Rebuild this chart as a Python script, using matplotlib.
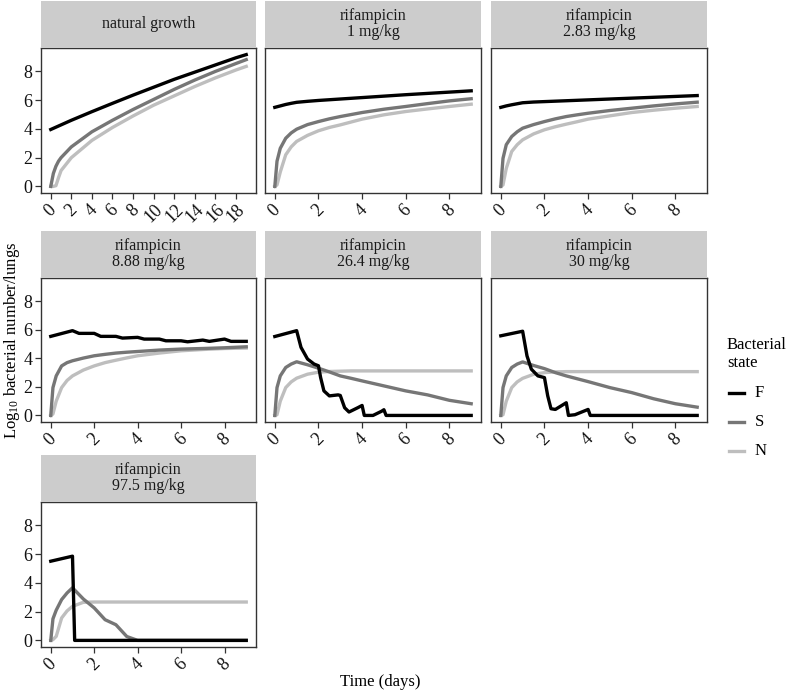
import matplotlib
matplotlib.use('Agg')
import matplotlib.pyplot as plt
from matplotlib.lines import Line2D

plt.rcParams['font.family'] = ['Liberation Serif', 'DejaVu Serif']
plt.rcParams['mathtext.default'] = 'regular'

# time grids (days)
ng_days = [0, 0.25, 0.5, 0.75, 1, 2, 4, 6, 8, 10, 12, 14, 16, 18, 19]
days = [0, 0.1, 0.25, 0.5, 0.75, 1, 1.5, 2, 2.5, 3, 3.5, 4, 5, 6, 7, 8, 9]

# natural growth
ng_F = [3.96, 4.04, 4.12, 4.2, 4.28, 4.6, 5.2, 5.78, 6.35, 6.9, 7.45, 7.95, 8.45, 8.95, 9.17]
ng_S = [0, 0.9, 1.4, 1.75, 2.0, 2.75, 3.8, 4.6, 5.35, 6.05, 6.75, 7.4, 8.0, 8.55, 8.82]
ng_N = [0, 0, 0.05, 0.6, 1.1, 2.0, 3.2, 4.1, 4.9, 5.65, 6.3, 6.95, 7.55, 8.1, 8.35]

# rifampicin 1 mg/kg
r1_F = [5.5, 5.54, 5.6, 5.7, 5.78, 5.85, 5.92, 5.98, 6.03, 6.08, 6.13, 6.18, 6.28, 6.38, 6.47, 6.56, 6.65]
r1_S = [0, 1.75, 2.65, 3.35, 3.72, 3.98, 4.3, 4.51, 4.7, 4.86, 5.0, 5.14, 5.37, 5.56, 5.76, 5.95, 6.1]
r1_N = [0, 0.1, 1.0, 2.2, 2.75, 3.13, 3.55, 3.87, 4.1, 4.28, 4.48, 4.68, 4.98, 5.21, 5.39, 5.56, 5.72]

# rifampicin 2.83 mg/kg
r283_F = [5.5, 5.54, 5.6, 5.68, 5.75, 5.82, 5.87, 5.9, 5.93, 5.96, 5.99, 6.02, 6.08, 6.14, 6.2, 6.26, 6.32]
r283_S = [0, 1.95, 2.9, 3.47, 3.8, 4.05, 4.3, 4.51, 4.7, 4.86, 4.98, 5.09, 5.28, 5.44, 5.6, 5.74, 5.86]
r283_N = [0, 0.1, 1.25, 2.43, 2.9, 3.24, 3.65, 3.94, 4.15, 4.33, 4.5, 4.68, 4.91, 5.14, 5.3, 5.44, 5.56]

# rifampicin 8.88 mg/kg
r888_F_days = [0, 1, 1.3, 2, 2.3, 3, 3.3, 4, 4.3, 5, 5.3, 6, 6.3, 7, 7.3, 8, 8.3, 9]
r888_F = [5.54, 5.94, 5.75, 5.75, 5.54, 5.54, 5.42, 5.47, 5.35, 5.35, 5.23, 5.23, 5.16, 5.28, 5.19, 5.35, 5.19, 5.19]
r888_S = [0, 1.95, 2.77, 3.47, 3.7, 3.83, 4.02, 4.18, 4.28, 4.37, 4.43, 4.48, 4.58, 4.65, 4.69, 4.74, 4.81]
r888_N = [0, 0.1, 1.0, 1.95, 2.45, 2.77, 3.18, 3.47, 3.7, 3.87, 4.03, 4.18, 4.37, 4.53, 4.62, 4.69, 4.72]

# rifampicin 26.4 mg/kg
r264_F_days = [0, 1, 1.2, 1.5, 1.8, 2, 2.1, 2.25, 2.5, 2.9, 3, 3.2, 3.4, 3.8, 4, 4.1, 4.5, 4.9, 5, 5.1, 9]
r264_F = [5.53, 5.94, 4.77, 3.95, 3.6, 3.48, 2.65, 1.72, 1.37, 1.44, 1.4, 0.54, 0.24, 0.54, 0.7, 0, 0, 0.3, 0.4, 0, 0]
r264_S = [0, 1.95, 2.77, 3.36, 3.6, 3.76, 3.55, 3.31, 3.05, 2.77, 2.6, 2.42, 2.07, 1.72, 1.44, 1.06, 0.82]
r264_N = [0, 0.05, 1.0, 1.95, 2.35, 2.61, 2.89, 3.03, 3.08, 3.1, 3.12, 3.12, 3.12, 3.12, 3.12, 3.12, 3.12]

# rifampicin 30 mg/kg
r30_F_days = [0, 1, 1.2, 1.4, 1.7, 2, 2.15, 2.3, 2.5, 3, 3.1, 3.4, 4, 4.1, 9]
r30_F = [5.58, 5.9, 4.17, 3.24, 2.77, 2.65, 1.37, 0.47, 0.42, 0.89, 0, 0.05, 0.42, 0, 0]
r30_S = [0, 1.95, 2.77, 3.36, 3.6, 3.75, 3.5, 3.28, 3.0, 2.77, 2.57, 2.37, 1.95, 1.6, 1.17, 0.82, 0.58]
r30_N = [0, 0.05, 1.0, 1.95, 2.35, 2.6, 2.88, 3.0, 3.05, 3.07, 3.07, 3.07, 3.07, 3.07, 3.07, 3.07, 3.07]

# rifampicin 97.5 mg/kg
r975_F_days = [0, 1, 1.1, 9]
r975_F = [5.51, 5.86, 0, 0]
r975_S = [0, 1.5, 2.1, 2.84, 3.3, 3.66, 2.88, 2.26, 1.44, 1.09, 0.27, 0, 0, 0, 0, 0, 0]
r975_N = [0, 0.05, 0.28, 1.56, 2.05, 2.37, 2.65, 2.67, 2.67, 2.67, 2.67, 2.67, 2.67, 2.67, 2.67, 2.67, 2.67]

panel_titles = ["natural growth", "rifampicin\n1 mg/kg", "rifampicin\n2.83 mg/kg",
                "rifampicin\n8.88 mg/kg", "rifampicin\n26.4 mg/kg", "rifampicin\n30 mg/kg",
                "rifampicin\n97.5 mg/kg"]
states = ["F", "S", "N"]
colors = ["#000000", "#767676", "#bebebe"]

panels = [
    (ng_days, ng_F, ng_days, ng_S, ng_N),
    (days, r1_F, days, r1_S, r1_N),
    (days, r283_F, days, r283_S, r283_N),
    (r888_F_days, r888_F, days, r888_S, r888_N),
    (r264_F_days, r264_F, days, r264_S, r264_N),
    (r30_F_days, r30_F, days, r30_S, r30_N),
    (r975_F_days, r975_F, days, r975_S, r975_N),
]

W, H = 787, 693
fig = plt.figure(figsize=(W / 100, H / 100), dpi=100)

col_x = [(41, 256), (265, 481), (491, 707)]
row_y = [(48, 193), (278, 422), (502, 647)]
strip_h = 47

for i, (fd, fv, sd, sv, nv) in enumerate(panels):
    r, c = divmod(i, 3)
    x0, x1 = col_x[c]
    y0, y1 = row_y[r]
    ax = fig.add_axes([x0 / W, 1 - y1 / H, (x1 - x0) / W, (y1 - y0) / H])
    ax.plot(sd, nv, color=colors[2], lw=2.4, solid_joinstyle='round')
    ax.plot(sd, sv, color=colors[1], lw=2.4, solid_joinstyle='round')
    ax.plot(fd, fv, color=colors[0], lw=2.4, solid_joinstyle='round')
    xmax = max(fd)
    pad = xmax * 0.05
    ax.set_xlim(-pad, xmax + pad)
    ax.set_ylim(-0.46, 9.63)
    ax.set_xticks(range(0, int(xmax) + 1, 2))
    ax.set_yticks([0, 2, 4, 6, 8])
    ax.tick_params(axis='both', length=4, width=0.9, color='#333333',
                   labelsize=13, labelcolor='#111111', pad=2)
    for lab in ax.get_xticklabels():
        lab.set_rotation(45)
        lab.set_ha('center')
        lab.set_va('top')
    if c != 0:
        ax.tick_params(axis='y', labelleft=False, length=0)
    for sp in ax.spines.values():
        sp.set_color('#333333')
        sp.set_linewidth(1.0)

    sax = fig.add_axes([x0 / W, 1 - y0 / H, (x1 - x0) / W, strip_h / H])
    sax.set_facecolor('#cccccc')
    sax.set_xticks([])
    sax.set_yticks([])
    for sp in sax.spines.values():
        sp.set_visible(False)
    sax.text(0.5, 0.5, panel_titles[i], ha='center', va='center', fontsize=11.5,
             color='#1a1a1a', linespacing=1.0, transform=sax.transAxes)

fig.text(12 / W, 1 - 340 / H, "Log$_{10}$ bacterial number/lungs", rotation=90,
         ha='center', va='center', fontsize=12)
fig.text(380 / W, 1 - 682 / H, "Time (days)", ha='center', va='center', fontsize=12)

# legend
fig.text(727 / W, 1 - 354 / H, "Bacterial\nstate", ha='left', va='center',
         fontsize=12, linespacing=1.1)
for k, (lab, col) in enumerate(zip(states, colors)):
    yy = 1 - (393 + 29 * k) / H
    fig.add_artist(Line2D([729 / W, 744 / W], [yy, yy], color=col, lw=2.4))
    fig.text(755 / W, yy, lab, ha='left', va='center', fontsize=12)

fig.savefig('out.png', dpi=100)
